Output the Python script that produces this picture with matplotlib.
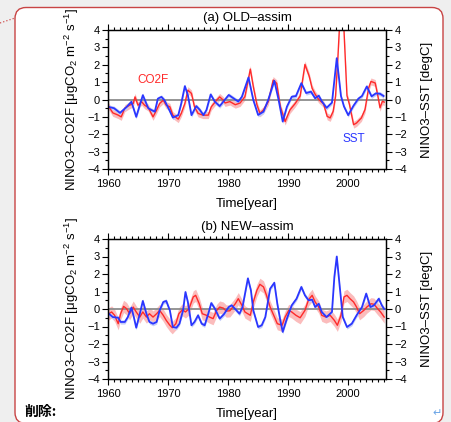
import numpy as np
import matplotlib.pyplot as plt
from matplotlib.patches import FancyBboxPatch
from matplotlib.ticker import MultipleLocator

plt.rcParams['font.family'] = ['Liberation Sans', 'DejaVu Sans']
plt.rcParams['mathtext.fontset'] = 'custom'
plt.rcParams['mathtext.rm'] = 'Liberation Sans'
plt.rcParams['mathtext.it'] = 'Liberation Sans:italic'

# (a) OLD-assim : NINO3 SST anomaly (blue)
sst_a_year = [1960.0, 1961.0, 1962.0, 1963.0, 1963.9, 1964.7, 1965.8, 1966.7, 1967.2, 1967.8,
              1968.3, 1968.9, 1969.4, 1970.2, 1970.8, 1971.7, 1972.2, 1972.8, 1973.3, 1973.9,
              1974.7, 1975.3, 1975.9, 1976.4, 1977.1, 1977.8, 1978.6, 1979.4, 1980.1, 1980.9,
              1981.7, 1982.3, 1983.4, 1984.2, 1985.0, 1985.9, 1986.7, 1987.7, 1988.4, 1989.1,
              1989.8, 1990.6, 1991.3, 1992.2, 1993.0, 1993.8, 1994.5, 1995.1, 1995.6, 1996.4,
              1997.3, 1998.1, 1998.8, 1999.3, 2000.0, 2000.9, 2001.7, 2002.3, 2003.1, 2003.9,
              2004.6, 2005.3, 2005.9]
sst_a = [-0.42, -0.5, -0.77, -0.46, -0.13, -1.0, 0.25, -0.5, -0.6, -0.7,
         0.05, 0.15, -0.04, -0.6, -1.04, -0.9, -0.23, 0.77, 0.25, -0.9,
         -0.38, -0.6, -0.9, -0.6, 0.29, -0.13, -0.38, -0.04, 0.26, 0.07,
         -0.12, 0.16, 1.27, -0.03, -0.89, -0.7, 0.0, 1.08, 0.0, -1.27,
         -0.41, 0.16, 0.2, 0.94, 0.37, 0.45, 0.07, 0.22, -0.1, -0.48,
         -0.18, 2.38, 0.2, -0.4, -0.9, -0.35, 0.05, 0.2, 0.75, 0.18,
         0.35, 0.33, 0.2]

# (a) OLD-assim : NINO3 CO2 flux anomaly (red)
co2_a_year = [1960.0, 1960.8, 1961.7, 1962.2, 1962.8, 1963.6, 1964.2, 1964.5, 1965.0, 1965.6,
              1966.1, 1966.7, 1967.5, 1968.1, 1968.6, 1969.2, 1969.7, 1970.3, 1970.8, 1971.7,
              1972.2, 1972.8, 1973.3, 1973.9, 1974.4, 1975.0, 1975.8, 1976.7, 1977.2, 1978.1,
              1978.6, 1979.2, 1979.5, 1980.3, 1981.2, 1982.0, 1982.8, 1983.7, 1984.2, 1984.8,
              1985.3, 1985.9, 1986.7, 1987.5, 1988.1, 1988.7, 1989.5, 1990.3, 1991.2, 1992.0,
              1992.8, 1993.5, 1994.0, 1994.5, 1995.1, 1995.9, 1996.5, 1997.0, 1997.5, 1997.9,
              1998.3, 1998.6, 1999.0, 1999.3, 1999.8, 2000.2, 2000.9, 2001.4, 2002.2, 2002.8,
              2003.4, 2003.8, 2004.5, 2004.9, 2005.3, 2005.7, 2006.0]
co2_a = [-0.33, -0.77, -0.9, -1.0, -0.5, -0.33, -0.23, 0.15, -0.33, -0.13,
         -0.33, -0.46, -1.0, -0.6, -0.23, -0.04, -0.33, -0.42, -0.9, -1.13,
         -0.8, -0.23, 0.54, 0.35, -0.42, -0.8, -0.9, -0.9, -0.42, -0.04,
         0.15, -0.04, -0.2, -0.12, -0.3, -0.2, 0.16, 1.75, 0.74, -0.3,
         -0.8, -0.6, -0.12, 1.12, 0.93, -0.41, -1.27, -0.6, -0.22, 0.2,
         2.02, 1.35, 0.64, 0.3, 0.0, -0.25, -0.97, -1.06, -0.68, 0.2,
         2.5, 4.5, 5.2, 4.0, 0.22, -0.27, -1.45, -1.35, -1.06, -0.58,
         0.66, 1.04, 0.95, 0.28, -0.48, -0.1, -0.15]

# (b) NEW-assim : SST (blue)
sst_b_year = [1960.0, 1960.8, 1961.7, 1962.1, 1962.8, 1963.3, 1963.9, 1964.3, 1964.7, 1965.3,
              1965.8, 1966.4, 1966.9, 1967.5, 1968.1, 1968.6, 1969.2, 1969.7, 1970.3, 1970.8,
              1971.4, 1971.9, 1972.5, 1972.9, 1973.3, 1973.9, 1974.4, 1975.0, 1975.6, 1976.1,
              1976.7, 1977.2, 1977.8, 1978.6, 1979.3, 1980.1, 1980.6, 1981.4, 1981.9, 1982.4,
              1983.3, 1983.8, 1984.2, 1985.0, 1985.6, 1986.2, 1987.0, 1987.7, 1988.2, 1988.7,
              1989.1, 1989.8, 1990.6, 1991.4, 1992.2, 1992.8, 1993.4, 1994.0, 1994.5, 1995.1,
              1995.6, 1996.4, 1997.3, 1997.7, 1998.1, 1998.6, 1999.1, 1999.8, 2000.6, 2001.4,
              2002.3, 2003.0, 2003.7, 2004.3, 2005.1, 2005.6, 2006.0]
sst_b = [-0.23, -0.46, -0.5, -0.74, -0.74, -0.46, 0.08, -0.46, -1.07, -0.27,
         0.46, -0.27, -0.74, -0.84, -0.74, -0.08, 0.4, 0.46, -0.08, -1.03,
         -1.07, -0.84, -0.08, 0.97, 0.4, -0.93, -0.74, -0.36, -0.84, -0.93,
         -0.27, 0.34, 0.02, -0.55, -0.3, 0.11, 0.21, -0.08, -0.27, 0.11,
         1.75, 1.07, -0.08, -1.03, -0.93, -0.46, 1.16, 1.5, 0.3, -0.65,
         -1.31, -0.55, 0.21, 0.59, 1.26, 0.78, 0.5, 0.53, 0.11, 0.3,
         -0.17, -0.46, -0.17, 1.83, 3.0, 1.26, -0.46, -1.03, -0.84, -0.36,
         0.11, 0.88, 0.11, 0.21, 0.59, 0.21, 0.0]

# (b) NEW-assim : CO2F (red)
co2_b_year = [1960.0, 1960.6, 1961.1, 1961.7, 1962.1, 1962.6, 1963.1, 1963.6, 1964.2, 1964.7,
              1965.3, 1965.8, 1966.4, 1966.9, 1967.5, 1968.1, 1968.6, 1969.2, 1969.7, 1970.3,
              1970.7, 1971.3, 1971.8, 1972.4, 1972.9, 1973.5, 1974.2, 1974.6, 1975.2, 1975.7,
              1976.4, 1976.9, 1977.5, 1978.1, 1978.6, 1979.2, 1979.7, 1980.3, 1981.2, 1981.7,
              1982.3, 1982.8, 1983.7, 1984.2, 1984.8, 1985.3, 1985.9, 1986.4, 1987.0, 1987.6,
              1988.2, 1989.0, 1989.5, 1990.1, 1990.6, 1991.3, 1992.0, 1992.8, 1993.4, 1994.0,
              1994.5, 1995.1, 1995.6, 1996.3, 1997.0, 1997.7, 1998.2, 1998.8, 1999.3, 1999.8,
              2000.3, 2000.9, 2001.4, 2001.9, 2002.6, 2003.1, 2003.8, 2004.3, 2004.9, 2005.4,
              2006.0]
co2_b = [-0.3, -0.17, -0.36, -0.84, -0.27, 0.15, 0.02, -0.27, 0.11, -0.17,
         -0.46, -0.17, -0.46, -0.27, -0.46, -0.27, -0.08, -0.36, -0.65, -0.93,
         -1.07, -0.84, -0.27, -0.04, -0.17, 0.02, 0.69, 0.78, 0.3, -0.27,
         -0.36, -0.46, -0.55, -0.08, 0.11, 0.05, -0.12, -0.1, 0.3, 0.59,
         0.21, -0.17, -0.36, 0.4, 1.07, 1.41, 1.26, 0.78, 0.11, -0.36,
         -0.84, -0.93, -0.46, -0.08, -0.17, -0.36, -0.5, -0.08, 0.53, 0.78,
         0.4, 0.11, -0.36, -0.46, -0.36, -0.65, -0.93, -0.36, 0.69, 0.78,
         0.59, 0.4, 0.11, -0.27, -0.08, 0.11, 0.3, 0.27, 0.02, -0.17,
         -0.46]

# ensemble spread (half width of shading)
co2_spread_a = 0.2
co2_spread_b = 0.35
sst_spread = 0.12

panels = [
    ("(a) OLD\u2013assim", sst_a_year, sst_a, co2_a_year, co2_a, co2_spread_a),
    ("(b) NEW\u2013assim", sst_b_year, sst_b, co2_b_year, co2_b, co2_spread_b),
]
xticks = [1960, 1970, 1980, 1990, 2000]

W, H = 451, 422
fig = plt.figure(figsize=(W / 100, H / 100), dpi=100, facecolor='#efefef')

# page background (pixel coordinates)
bg = fig.add_axes([0, 0, 1, 1], zorder=-1)
bg.set_xlim(0, W)
bg.set_ylim(H, 0)
bg.axis('off')
bg.add_patch(FancyBboxPatch((15, 7.5), 428, 416, boxstyle='round,pad=0,rounding_size=11',
                            fc='white', ec='#c84444', lw=1.0))
bg.plot([0, 15], [23, 18], ls=':', color='#d05050', lw=0.9)
bg.text(24, 412, '削除:', family=['Noto Sans CJK JP', 'DejaVu Sans'], fontweight='bold',
        fontsize=10, va='center', ha='left')
bg.text(437, 413, '\u21b5', color='#6aa4e6', fontsize=8, va='center', ha='center',
        family=['DejaVu Sans'])

axes_px = [(30, 169), (239, 379)]  # top, bottom pixel rows
for (title, sy, sv, cy, cv, cs), (top, bot) in zip(panels, axes_px):
    ax = fig.add_axes([108 / W, 1 - bot / H, 278 / W, (bot - top) / H])
    sv = np.array(sv)
    cv = np.array(cv)
    ax.fill_between(cy, cv - cs, cv + cs, color='#fbbcbc', lw=0)
    ax.fill_between(sy, sv - sst_spread, sv + sst_spread, color='#c4ccf8', lw=0)
    ax.axhline(0, color='#8c8c8c', lw=1.3)
    ax.plot(cy, cv, color='#ff2a2a', lw=1.0, solid_joinstyle='round')
    ax.plot(sy, sv, color='#2a36ff', lw=1.3, solid_joinstyle='round')

    ax.set_xlim(1960, 2006.3)
    ax.set_ylim(-4, 4)
    ax.set_xticks(xticks)
    ax.xaxis.set_minor_locator(MultipleLocator(1))
    ax.yaxis.set_major_locator(MultipleLocator(1))
    ax.yaxis.set_minor_locator(MultipleLocator(0.5))
    ax.tick_params(which='both', direction='out', top=True, labelsize=8, width=0.8)
    ax.tick_params(axis='x', pad=3.5)
    ax.tick_params(axis='y', pad=2)
    ax.tick_params(which='major', length=4)
    ax.tick_params(which='minor', length=2.2)

    ax2 = ax.twinx()
    ax2.set_ylim(-4, 4)
    ax2.yaxis.set_major_locator(MultipleLocator(1))
    ax2.yaxis.set_minor_locator(MultipleLocator(0.5))
    ax2.tick_params(which='both', direction='out', labelsize=8, width=0.8, pad=2)
    ax2.tick_params(which='major', length=4)
    ax2.tick_params(which='minor', length=2.2)
    for a in (ax, ax2):
        for s in a.spines.values():
            s.set_linewidth(0.9)

    ax.set_title(title, fontsize=9.5, pad=6.5)
    ax.set_xlabel('Time[year]', fontsize=9.5, labelpad=6.5)
    ax.set_ylabel('NINO3\u2013CO2F [\u03bcgCO$_2$ m$^{-2}$ s$^{-1}$]', fontsize=9.5, labelpad=4)
    ax2.set_ylabel('NINO3\u2013SST [degC]', fontsize=9.5, labelpad=10)

    if title.startswith('(a)'):
        ax.text(1967.5, 1.15, 'CO2F', color='#ff2a2a', fontsize=8.5, ha='center', va='center')
        ax.text(2001.0, -2.29, 'SST', color='#2a36ff', fontsize=8.5, ha='center', va='center')

fig.savefig('out.png', dpi=100, facecolor=fig.get_facecolor())
